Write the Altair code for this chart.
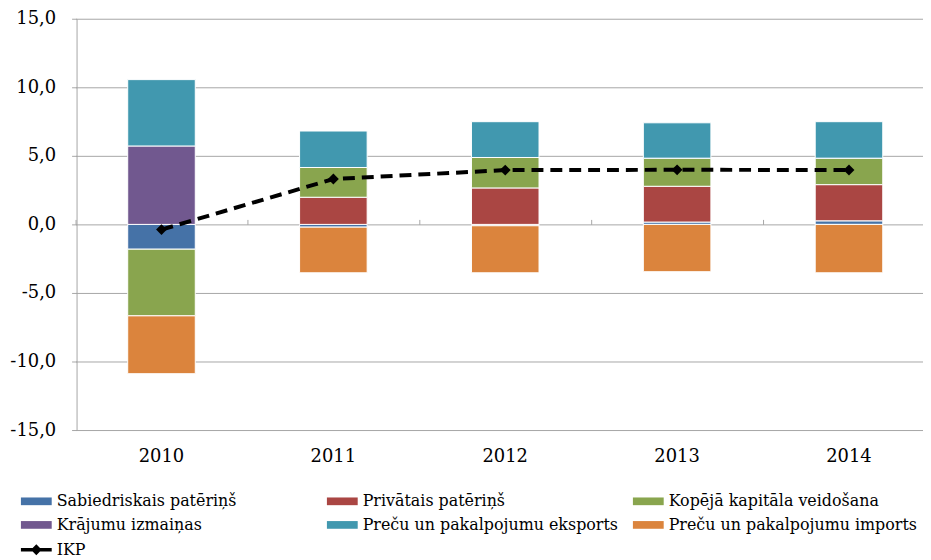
import altair as alt
import pandas as pd

years = ["2010", "2011", "2012", "2013", "2014"]
series_names = [
    "Sabiedriskais patēriņš",
    "Privātais patēriņš",
    "Kopējā kapitāla veidošana",
    "Krājumu izmaiņas",
    "Preču un pakalpojumu eksports",
    "Preču un pakalpojumu imports",
]
series_colors = ["#4572A7", "#AA4643", "#89A54E", "#71588F", "#4198AF", "#DB843D"]

sabiedriskais = [-1.81, -0.2, -0.1, 0.17, 0.26]
privatais = [0.0, 1.98, 2.66, 2.61, 2.64]
kopeja = [-4.86, 2.17, 2.22, 2.05, 1.93]
krajumu = [5.72, 0.0, 0.0, 0.0, 0.0]
eksports = [4.84, 2.66, 2.61, 2.58, 2.66]
imports = [-4.22, -3.33, -3.43, -3.45, -3.53]
ikp = [-0.38, 3.31, 3.96, 3.98, 3.97]

all_series = [sabiedriskais, privatais, kopeja, krajumu, eksports, imports]

rows = []
for k, (name, vals) in enumerate(zip(series_names, all_series)):
    for y, v in zip(years, vals):
        rows.append({"year": y, "series": name, "value": v, "ord": k})
bars_df = pd.DataFrame(rows)
line_df = pd.DataFrame({"year": years, "ikp": ikp, "s": ["IKP"] * len(years)})

FONT = "DejaVu Serif"
FS = 18
LFS = 16
GRID = "#a6a6a6"

xscale = alt.Scale(domain=years, range=[-1, 864], paddingInner=0, paddingOuter=0)
yscale = alt.Scale(domain=[-15, 15], nice=False, zero=False)

bars = alt.Chart(bars_df).mark_bar(size=68, stroke="white", strokeWidth=1).encode(
    x=alt.X("year:N", scale=xscale, sort=years,
            axis=alt.Axis(title=None, ticks=False, domain=False, grid=False,
                          labelFont=FONT, labelFontSize=FS, labelColor="black",
                          labelPadding=18, labelAngle=0)),
    y=alt.Y("value:Q", scale=yscale, stack="zero",
            axis=alt.Axis(title=None, values=[-15, -10, -5, 0, 5, 10, 15],
                          labelExpr="replace(replace(format(datum.value, '.1f'), '.', ','), '\u2212', '-')",
                          labelFont=FONT, labelFontSize=FS, labelColor="black",
                          labelPadding=16, tickSize=5, tickColor=GRID,
                          domainColor=GRID, gridColor=GRID, grid=True)),
    color=alt.Color("series:N", scale=alt.Scale(domain=series_names, range=series_colors),
                    legend=alt.Legend(title=None, orient="none", legendX=-56, legendY=470,
                                      direction="horizontal",
                                      columns=3, gridAlign="all", columnPadding=14, rowPadding=0,
                                      symbolType="M-1,-0.25H1V0.25H-1Z", symbolSize=961,
                                      symbolStrokeWidth=0, symbolOpacity=1, labelOffset=5,
                                      labelFont=FONT, labelFontSize=LFS, labelColor="black",
                                      labelLimit=400, padding=0)),
    order=alt.Order("ord:Q"),
)

line = alt.Chart(line_df).mark_line(color="black", strokeWidth=4, strokeDash=[12, 7]).encode(
    x=alt.X("year:N", scale=xscale, sort=years,
            axis=alt.Axis(title=None, labels=False, ticks=True, tickSize=5, tickColor=GRID,
                          bandPosition=0, domain=False, grid=False, offset=-207)),
    y=alt.Y("ikp:Q", scale=yscale, title=None),
)

points = alt.Chart(line_df).mark_point(shape="diamond", filled=True, size=120, opacity=1).encode(
    x=alt.X("year:N", scale=xscale, sort=years, axis=None),
    y=alt.Y("ikp:Q", scale=yscale, title=None),
    fill=alt.Fill("s:N", scale=alt.Scale(domain=["IKP"], range=["black"]),
                  legend=alt.Legend(title=None, orient="none", legendX=-56, legendY=519,
                                    symbolType="M-1,-0.12H1V0.12H-1Z M-0.35,0L0,-0.35L0.35,0L0,0.35Z",
                                    symbolSize=961, symbolStrokeWidth=0, symbolOpacity=1,
                                    labelOffset=5, labelFont=FONT, labelFontSize=LFS,
                                    labelColor="black", padding=0)),
)

chart = alt.layer(bars, line, points).resolve_axis(x="independent").resolve_legend(
    color="independent", fill="independent"
).properties(
    width=852, height=414,
    padding={"left": 69, "top": 9, "right": 0, "bottom": 129},
    autosize=alt.AutoSizeParams(type="none"),
).configure_view(stroke=None).configure_axis(labelFont=FONT).configure_legend(labelFont=FONT)

chart.save("out.html", embed_options={"renderer": "svg", "actions": False})
